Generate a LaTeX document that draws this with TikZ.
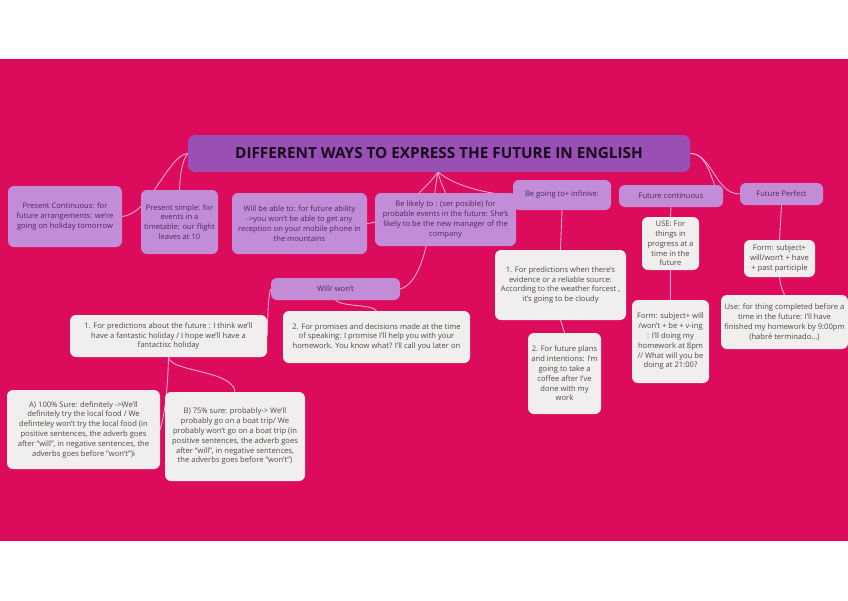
\documentclass[tikz,border=0pt]{standalone}
\usepackage{fontspec}
\setmainfont{Open Sans}
\usetikzlibrary{backgrounds}
\definecolor{bgmag}{HTML}{DC0B5B}
\definecolor{titlepurple}{HTML}{9A4FB4}
\definecolor{lightpurple}{HTML}{C28DD6}
\definecolor{whitebox}{HTML}{F1EEEE}
\definecolor{linkcol}{HTML}{E9A6D6}
\definecolor{darkpurpletext}{HTML}{4A2A5C}
\definecolor{greytext}{HTML}{4D484D}
\tikzset{
  basebox/.style={rounded corners=6pt, inner sep=0pt, align=center, font=\fontsize{7.6}{9.8}\selectfont},
  lbox/.style={basebox, fill=lightpurple, text=darkpurpletext},
  wbox/.style={basebox, fill=whitebox, text=greytext},
  tbox/.style={rounded corners=7pt, inner sep=0pt, fill=titlepurple, text=black!85!titlepurple, font=\fontsize{15.3}{18}\selectfont\bfseries},
  link/.style={draw=linkcol, line width=0.9pt}
}
\begin{document}
\begin{tikzpicture}[x=1pt, y=-1pt]
\useasboundingbox (0,0) rectangle (848,600);
\begin{pgfonlayer}{background}
\fill[white] (0,0) rectangle (848,600);
\fill[bgmag] (0,58.5) rectangle (848,541);
\end{pgfonlayer}

\node[tbox, minimum width=502, minimum height=37] (title) at (439,153.5) {DIFFERENT WAYS TO EXPRESS THE FUTURE IN ENGLISH};

\node[lbox, minimum width=114, minimum height=61] (pc) at (65,216.5) {Present Continuous: for\\future arrangements: we're\\going on holiday tomorrow};
\node[lbox, minimum width=77, minimum height=64] (ps) at (179.5,222) {Present simple: for\\events in a\\timetable: our flight\\leaves at 10};
\node[lbox, minimum width=135, minimum height=61] (wba) at (299.5,223.5) {Will be able to: for future ability\\->you won't be able to get any\\reception on your mobile phone in\\the mountains};
\node[lbox, minimum width=141, minimum height=53] (bl) at (445.5,219.5) {Be likely to : (ser posible) for\\probable events in the future: She's\\likely to be the new manager of the\\company};
\node[lbox, minimum width=98, minimum height=30] (gt) at (562,195) {Be going to+ infinive:};
\node[lbox, minimum width=104, minimum height=22] (fc) at (671,196) {Future continuous};
\node[lbox, minimum width=83, minimum height=22] (fp) at (781.5,194) {Future Perfect};
\node[lbox, minimum width=129, minimum height=22] (will) at (335.5,289) {Will/ won't};

\node[wbox, minimum width=197, minimum height=42] (pred1) at (168.5,336) {1. For predictions about the future : I think we'll\\have a fantastic holiday / I hope we'll have a\\fantactisc holiday};
\node[wbox, minimum width=187, minimum height=52] (prom2) at (376.5,337) {2. For promises and decisions made at the time\\of speaking: I promise I'll help you with your\\homework. You know what? I'll call you later on};
\node[wbox, minimum width=153, minimum height=79] (sureA) at (83.5,429.5) {A) 100\% Sure: definitely ->We'll\\definitely try the local food / We\\definteley won't try the local food (in\\positive sentences, the adverb goes\\after ``will'', in negative sentences, the\\adverbs goes before ``won't'')i};
\node[wbox, minimum width=140, minimum height=89] (sureB) at (235,436.5) {B) 75\% sure: probably-> We'll\\probably go on a boat trip/ We\\probably won't go on a boat trip (in\\positive sentences, the adverb goes\\after ``will'', in negative sentences,\\the adverbs goes before ``won't'')};
\node[wbox, minimum width=131, minimum height=70] (ev1) at (560.5,285) {1. For predictions when there's\\evidence or a reliable source:\\According to the weather forcest ,\\it's going to be cloudy};
\node[wbox, minimum width=73, minimum height=81] (plans) at (564.5,373.5) {2. For future plans\\and intentions: I'm\\going to take a\\coffee after I've\\done with my\\work};
\node[wbox, minimum width=57, minimum height=53] (fcuse) at (670.5,243.5) {USE: For\\things in\\progress at a\\time in the\\future};
\node[wbox, minimum width=77, minimum height=83] (fcform) at (670.5,341.5) {Form: subject+ will\\/won't + be + v-ing\\: I'll doing my\\homework at 8pm\\// What will you be\\doing at 21:00?};
\node[wbox, minimum width=71, minimum height=37] (fpform) at (779.5,258.5) {Form: subject+\\will/won't + have\\+ past participle};
\node[wbox, minimum width=127, minimum height=54] (fpuse) at (784.5,322) {Use: for thing completed before a\\time in the future: I'll have\\finished my homework by 9:00pm\\(habré terminado...)};

\begin{pgfonlayer}{background}
\coordinate (apex) at (438,172);
\draw[link] (title.west) .. controls (168,155) and (150,214) .. (pc.east);
\draw[link] (title.west) .. controls (182,160) and (180,176) .. (ps.north);
\draw[link] (apex) .. controls (425,190) and (390,222) .. (wba.east);
\draw[link] (apex) .. controls (440,180) .. (bl.north);
\draw[link] (apex) .. controls (460,190) and (500,195) .. (gt.west);
\draw[link] (apex) .. controls (432,200) and (430,280) .. (will.east);
\draw[link] (title.east) .. controls (712,153) and (712,196) .. (fc.east);
\draw[link] (title.east) .. controls (712,153) and (715,194) .. (fp.west);
\draw[link] (gt.south) -- (ev1.north);
\draw[link] (ev1.south) -- (plans.north);
\draw[link] (fc.south) -- (fcuse.north);
\draw[link] (fcuse.south) -- (fcform.north);
\draw[link] (fp.south) -- (fpform.north);
\draw[link] (fpform.south) .. controls (781,287) .. (fpuse.north);
\draw[link] (will.west) .. controls (268,296) and (268,312) .. (pred1.east);
\draw[link] (will.south) .. controls (342,307) and (372,304) .. (prom2.north);
\draw[link] (pred1.south) .. controls (168,380) and (166,410) .. (sureA.east);
\draw[link] (pred1.south) .. controls (170,372) and (233,370) .. (sureB.north);
\end{pgfonlayer}
\end{tikzpicture}
\end{document}
